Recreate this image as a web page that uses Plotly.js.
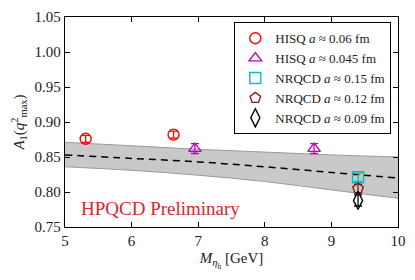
<!DOCTYPE html>
<html><head><meta charset="utf-8">
<script src="https://cdn.plot.ly/plotly-3.0.1.min.js"></script>
<style>html,body{margin:0;padding:0;background:#fff}#c{width:415px;height:280px}</style>
</head><body><div id="c"></div>
<script>
// Fit band
const bandX = [5, 6, 7, 8, 9, 10];
const bandUpper = [0.871, 0.866, 0.861, 0.857, 0.853, 0.850];
const bandLower = [0.836, 0.831, 0.824, 0.815, 0.803, 0.791];
const bandCenter = [0.853, 0.848, 0.843, 0.836, 0.828, 0.820];

// Data sets
const hisq06X = [5.31, 6.63];
const hisq06Y = [0.876, 0.882];
const hisq06E = [0.005, 0.005];
const hisq045X = [6.95, 8.74];
const hisq045Y = [0.862, 0.862];
const hisq045E = [0.007, 0.007];
const nr15X = [9.40];
const nr15Y = [0.821];
const nr15E = [0.006];
const nr12X = [9.40];
const nr12Y = [0.805];
const nr12E = [0.006];
const nr09X = [9.40];
const nr09Y = [0.788];
const nr09E = [0.008];

const xTicks = [5, 6, 7, 8, 9, 10];
const yTicks = [0.75, 0.80, 0.85, 0.90, 0.95, 1.00, 1.05];

const serif = 'Liberation Serif';

function pts(x, y, e, name, color, symbol, size) {
  return {
    x: x, y: y, name: name, mode: 'markers', type: 'scatter',
    error_y: {type: 'data', array: e, visible: true, color: color, thickness: 1.3, width: 4},
    marker: {symbol: symbol, size: size, color: color, line: {color: color, width: 1.4}}
  };
}

const traces = [
  {x: bandX, y: bandLower, mode: 'lines', line: {color: '#9a9a9a', width: 1, shape: 'spline'}, showlegend: false, hoverinfo: 'skip'},
  {x: bandX, y: bandUpper, mode: 'lines', fill: 'tonexty', fillcolor: '#c9c9c9', line: {color: '#9a9a9a', width: 1, shape: 'spline'}, showlegend: false, hoverinfo: 'skip'},
  {x: bandX, y: bandCenter, mode: 'lines', line: {color: '#000', width: 1.5, dash: '7px,5px', shape: 'spline'}, showlegend: false},
  pts(hisq06X, hisq06Y, hisq06E, 'HISQ <i>a</i> ≈ 0.06 fm', '#ff0000', 'circle-open', 11),
  pts(hisq045X, hisq045Y, hisq045E, 'HISQ <i>a</i> ≈ 0.045 fm', '#bf00bf', 'triangle-up-open', 11),
  pts(nr15X, nr15Y, nr15E, 'NRQCD <i>a</i> ≈ 0.15 fm', '#00bfbf', 'square-open', 11),
  pts(nr12X, nr12Y, nr12E, 'NRQCD <i>a</i> ≈ 0.12 fm', '#8b1a1a', 'pentagon-open', 11),
  pts(nr09X, nr09Y, nr09E, 'NRQCD <i>a</i> ≈ 0.09 fm', '#000000', 'diamond-tall-open', 13)
];

const axisCommon = {
  showgrid: false, zeroline: false, showline: true, linecolor: '#000', linewidth: 1.3,
  mirror: 'ticks', ticks: 'inside', ticklen: 5, tickcolor: '#000', tickwidth: 1,
  tickfont: {family: serif, size: 15, color: '#222'}
};

const layout = {
  width: 415, height: 280,
  font: {family: serif},
  margin: {l: 65, r: 17, t: 17, b: 53},
  paper_bgcolor: '#fff', plot_bgcolor: '#fff',
  showlegend: true,
  legend: {
    x: 0.98, xanchor: 'right', y: 0.975, yanchor: 'top', traceorder: 'normal',
    bgcolor: '#fff', bordercolor: '#000', borderwidth: 1,
    font: {family: serif, size: 13, color: '#222'},
    tracegroupgap: 0, itemwidth: 30
  },
  xaxis: Object.assign({}, axisCommon, {
    range: [5, 10], tickvals: xTicks, ticktext: xTicks.map(String),
    title: {text: '<i>M</i><sub><i>η</i><sub>h</sub></sub> [GeV]', font: {family: serif, size: 15, color: '#222'}, standoff: 4}
  }),
  yaxis: Object.assign({}, axisCommon, {
    range: [0.75, 1.05], tickvals: yTicks, ticktext: yTicks.map(v => v.toFixed(2)),
    title: {text: '<i>A</i><sub>1</sub>(<i>q</i><sup>2</sup><sub>max</sub>)', font: {family: serif, size: 15, color: '#222'}, standoff: 6}
  }),
  annotations: [{
    x: 6.44, y: 0.777, xref: 'x', yref: 'y', text: 'HPQCD Preliminary', showarrow: false,
    font: {family: serif, size: 19, color: '#d42a2a'}
  }]
};

Plotly.newPlot('c', traces, layout, {staticPlot: true, displayModeBar: false});
</script>
</body></html>
